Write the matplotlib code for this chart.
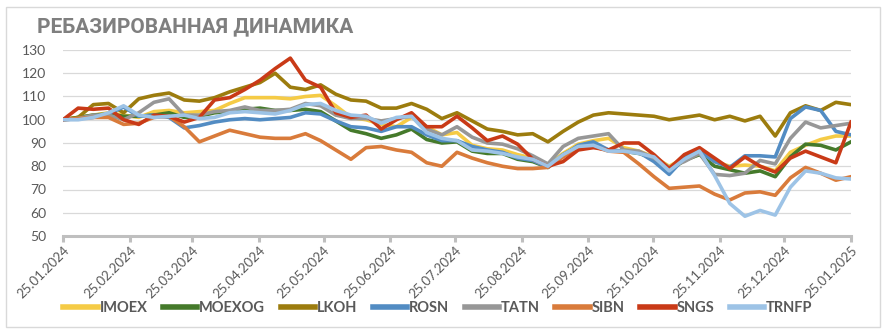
import matplotlib
matplotlib.use("Agg")
import matplotlib.pyplot as plt
import matplotlib.dates as mdates
import pandas as pd

# Ребазированные цены (старт = 100), недельные точки с 25.01.2024 по 25.01.2025
IMOEX = [100, 101, 102, 103, 102, 101, 103.5, 104, 103, 103.5, 104, 107, 109.5, 109.5,
         109.5, 109, 110, 110.5, 106, 101, 100, 98, 97, 101, 97, 93.5, 94.5,
         89, 87.5, 87, 85, 83.5, 80.5, 85.5, 89.5, 91, 92, 88, 86.5, 84, 80,
         83.5, 87, 82, 80, 80.5, 80, 78, 86, 89, 91.5, 93, 93]
MOEXOG = [100, 101, 102, 102.5, 101.5, 101.5, 102, 103, 101, 101.5, 103, 103.5, 104.5, 105,
          104, 104, 104.5, 103.5, 99.5, 95.5, 94, 92, 93.5, 96, 91.5, 90, 90.5,
          86.5, 85.5, 85.5, 83, 82, 79.5, 85, 88.5, 89, 87, 86.5, 85.5, 83.5, 78,
          82.5, 85, 80, 78.5, 77, 78, 75.5, 84, 89.5, 89, 87, 90.5]
LKOH = [100, 101, 106.5, 107, 103, 109, 110.5, 111.5, 108.5, 108, 109.5, 112, 114, 116,
        120, 114, 113, 115, 111, 108.5, 108, 105, 105, 107, 104.5, 100.5, 103,
        99.5, 96, 95, 93.5, 94, 90.5, 95, 99, 102, 103, 102.5, 102, 101.5, 100,
        101, 102, 100, 101.5, 99.5, 101.5, 93, 103, 106, 104, 107.5, 106.5]
ROSN = [100, 100.5, 101, 102.5, 105.5, 101.5, 102, 101, 96.5, 97.5, 99, 100, 100.5, 100,
        100.5, 101, 103, 102.5, 99.5, 97, 96.5, 95, 97, 97, 93.5, 91, 91,
        88.5, 87, 86, 83.5, 82.5, 79.5, 84.5, 89, 90.5, 87, 86.5, 86, 82, 76.5,
        83.5, 86.5, 82, 79.5, 84.5, 84.5, 84, 100.5, 105.5, 104, 95, 93.5]
TATN = [100, 100.5, 102, 102, 100, 103, 107.5, 109, 102, 102, 103.5, 104, 105.5, 104,
        104, 104.5, 107, 106, 102, 100.5, 100.5, 99.5, 100.5, 101.5, 96, 93.5, 97,
        92.5, 90, 89.5, 87.5, 84.5, 81, 88.5, 92, 93, 94, 87, 86.5, 83.5, 79.5,
        82, 85.5, 76.5, 76, 77, 82.5, 81, 92, 99, 96.5, 97.5, 98.5]
SIBN = [100, 100.5, 101, 101, 98, 98.5, 101, 101.5, 97, 90.5, 93, 95.5, 94, 92.5,
        92, 92, 94, 91, 87, 83, 88, 88.5, 87, 86, 81.5, 80, 86,
        83.5, 81.5, 80, 79, 79, 79.5, 84, 88, 88.5, 86.5, 86, 81, 75.5, 70.5,
        71, 71.5, 68, 65.5, 68.5, 69, 67.5, 75, 79.5, 77, 74, 75.5]
SNGS = [100, 105, 104.5, 105, 100, 98, 102, 101.5, 99, 101, 108.5, 109.5, 113, 117,
        122, 126.5, 117, 114, 103, 101, 102, 96, 100, 103, 97, 97, 101.5,
        96.5, 91, 93, 89.5, 83, 80, 82, 87, 88, 87, 90, 90, 85, 79,
        85, 88, 83.5, 79, 84, 80, 77.5, 83.5, 86.5, 84, 81.5, 99]
TRNFP = [100, 100, 101, 103, 106, 102, 101, 101.5, 102, 100.5, 101, 103, 103.5, 103,
         102.5, 104, 106.5, 107, 104, 102, 101.5, 98.5, 101, 101.5, 94.5, 92, 91,
         87, 86.5, 85.5, 84, 83, 80, 85, 88.5, 89, 86.5, 86.5, 85.5, 84, 78,
         83, 86.5, 76, 64, 58.5, 61, 59, 71, 78, 77, 75, 74.5]

tickers = ["IMOEX", "MOEXOG", "LKOH", "ROSN", "TATN", "SIBN", "SNGS", "TRNFP"]
series = [IMOEX, MOEXOG, LKOH, ROSN, TATN, SIBN, SNGS, TRNFP]
colors = ["#F5CB46", "#457A2B", "#9C7C0E", "#528CC3", "#979797", "#D97B3B", "#C93A17", "#9DC3E6"]

dates = pd.date_range("2024-01-25", "2025-01-25", periods=len(IMOEX))
month_ticks = pd.date_range("2024-01-25", "2025-01-25", freq=pd.DateOffset(months=1))

plt.rcParams["font.family"] = ["Lato", "Open Sans", "DejaVu Sans"]
txt = "#595959"
fig = plt.figure(figsize=(8.86, 3.33), dpi=100)
ax = fig.add_axes([63 / 886, 1 - 236 / 333, 788 / 886, 186 / 333])

for name, vals, c in zip(tickers, series, colors):
    ax.plot(dates, vals, color=c, lw=2.6, label=name, solid_joinstyle="round")

ax.set_ylim(50, 130)
ax.set_yticks(range(50, 131, 10))
ax.set_xlim(dates[0], pd.Timestamp("2025-01-25"))
ax.set_xticks(month_ticks)
ax.xaxis.set_major_formatter(mdates.DateFormatter("%d.%m.%Y"))
ax.grid(axis="y", color="#D9D9D9", lw=0.9)
ax.set_axisbelow(True)
for s in ["top", "right", "left"]:
    ax.spines[s].set_visible(False)
ax.spines["bottom"].set_color("#BFBFBF")
ax.spines["bottom"].set_linewidth(2.2)
ax.tick_params(axis="y", length=0, pad=12, labelsize=10, labelcolor=txt)
ax.tick_params(axis="x", length=4, width=2.2, color="#BFBFBF", pad=2, labelsize=9.5, labelcolor=txt)
plt.setp(ax.get_xticklabels(), rotation=45, ha="right", rotation_mode="anchor")

fig.text(37 / 886, 1 - 27 / 333, "РЕБАЗИРОВАННАЯ ДИНАМИКА", fontsize=15, fontweight="bold",
         color="#7F7F7F", va="center", family=["Roboto", "DejaVu Sans"])

leg = fig.legend(loc="center", bbox_to_anchor=(438 / 886, 1 - 308 / 333), ncol=8, frameon=False,
                 handlelength=2.35, handletextpad=0.15, columnspacing=1.05,
                 prop={"size": 10.5, "weight": "bold"})
for t in leg.get_texts():
    t.set_color(txt)
for h in leg.get_lines():
    h.set_linewidth(4)

# рамка вокруг всей диаграммы
fig.patches.append(plt.Rectangle((6 / 886, 6 / 333), 874 / 886, 320 / 333, transform=fig.transFigure,
                                 fill=False, edgecolor="#D9D9D9", lw=1))

fig.savefig("out.png", dpi=100)
